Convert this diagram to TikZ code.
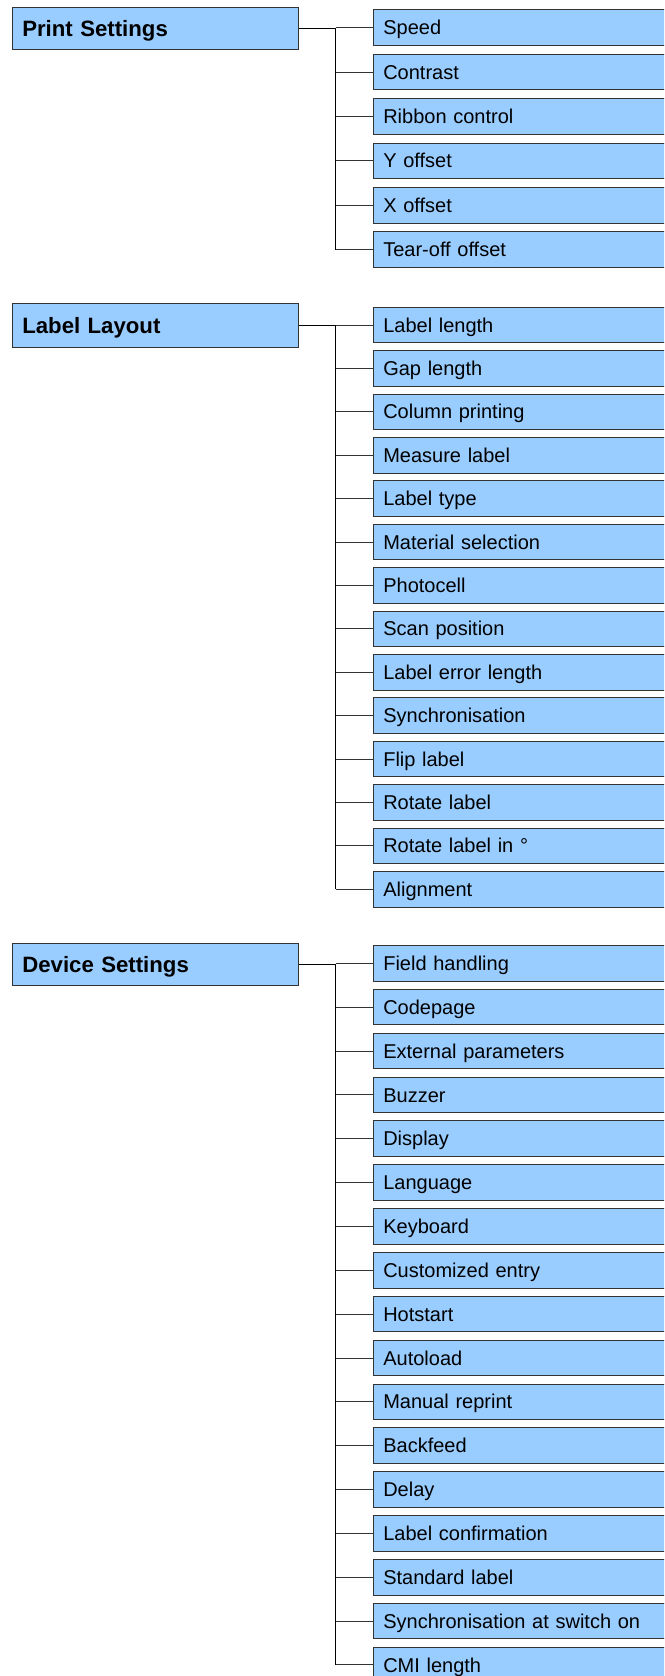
\documentclass[tikz,border=0pt]{standalone}
\usepackage{fontspec}
\setmainfont{Liberation Sans}
\definecolor{boxblue}{HTML}{99CCFF}
\definecolor{boxline}{HTML}{333333}
\begin{document}
\begin{tikzpicture}[x=1pt,y=-1pt,
  parentbox/.style={draw=boxline, line width=1pt, fill=boxblue, anchor=north west,
    minimum height=42.6pt, text width=266.4pt, inner xsep=9.5pt, inner ysep=0pt,
    text height=16pt, text depth=0pt, align=left,
    font=\fontsize{22.2}{26}\selectfont\bfseries},
  childbox/.style={draw=boxline, line width=1pt, fill=boxblue, anchor=north west,
    minimum height=35.6pt, text width=281pt, inner xsep=9.5pt, inner ysep=0pt,
    text height=14.3pt, text depth=0pt, align=left,
    font=\fontsize{20}{24}\selectfont},
  trunk/.style={draw=black, line width=1.3pt},
  branch/.style={draw=black!80, line width=0.9pt}]
\useasboundingbox (0,0) rectangle (664,1676);
\clip (0,0) rectangle (664,1676);

% ---------- Print Settings ----------
\node[parentbox] (ps) at (12.3,6.7) {Print Settings};
\foreach \t [count=\i from 0] in {Speed,Contrast,Ribbon control,Y offset,X offset,Tear-off offset}
  \node[childbox] (a\i) at (373.3,{9.3+\i*44.4}) {\t};
\coordinate (ta) at (ps.east -| 335.7,0);
\draw[trunk] (ps.east) -- (ta);
\draw[trunk] (ta) -- (ta |- a5.west);
\foreach \i in {0,...,5}
  \draw[branch] (ta |- a\i.west) -- (a\i.west);

% ---------- Label Layout ----------
\node[parentbox, minimum height=43.4pt] (ll) at (12.3,303.3) {Label Layout};
\foreach \t [count=\i from 0] in {Label length,Gap length,Column printing,Measure label,Label type,Material selection,Photocell,Scan position,Label error length,Synchronisation,Flip label,Rotate label,Rotate label in °,Alignment}
  \node[childbox] (b\i) at (373.3,{306.7+\i*43.4}) {\t};
\coordinate (tb) at (ll.east -| 335.7,0);
\draw[trunk] (ll.east) -- (tb);
\draw[trunk] (tb) -- (tb |- b13.west);
\foreach \i in {0,...,13}
  \draw[branch] (tb |- b\i.west) -- (b\i.west);

% ---------- Device Settings ----------
\node[parentbox, minimum height=42.3pt] (ds) at (12.3,942.7) {Device Settings};
\foreach \t [count=\i from 0] in {Field handling,Codepage,External parameters,Buzzer,Display,Language,Keyboard,Customized entry,Hotstart,Autoload,Manual reprint,Backfeed,Delay,Label confirmation,Standard label,Synchronisation at switch on,CMI length}
  \node[childbox] (c\i) at (373.3,{945+\i*43.85}) {\t};
\coordinate (tc) at (ds.east -| 335.7,0);
\draw[trunk] (ds.east) -- (tc);
\draw[trunk] (tc) -- (tc |- c16.west);
\foreach \i in {0,...,16}
  \draw[branch] (tc |- c\i.west) -- (c\i.west);
\end{tikzpicture}
\end{document}
